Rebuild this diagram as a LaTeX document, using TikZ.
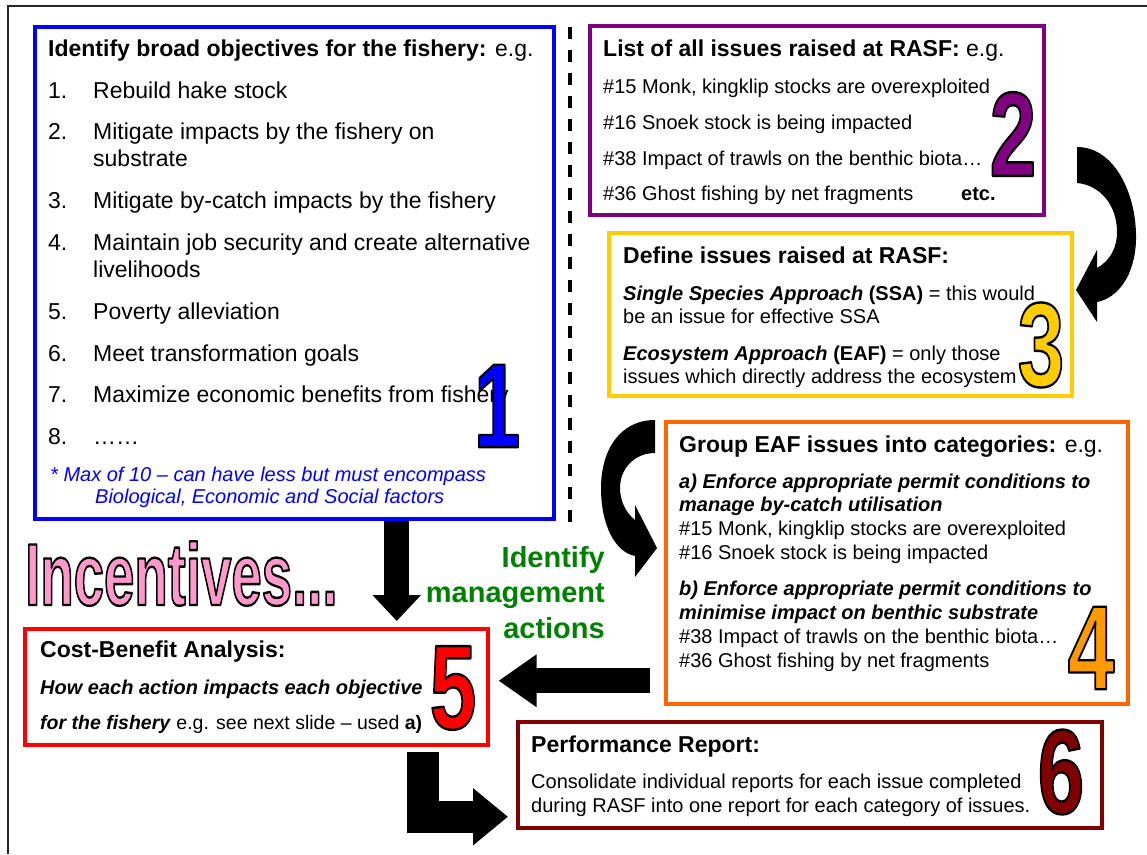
\documentclass[tikz,border=0pt]{standalone}
\usepackage{fontspec}
\setmainfont{Liberation Sans}
\usepackage{graphicx}
\usepackage{tikz}
\usetikzlibrary{arrows.meta,positioning}

\definecolor{objblue}{RGB}{0,0,255}
\definecolor{listpurple}{RGB}{128,0,128}
\definecolor{defyellow}{RGB}{255,204,0}
\definecolor{grouporange}{RGB}{255,102,0}
\definecolor{numorange}{RGB}{255,153,0}
\definecolor{cbared}{RGB}{255,0,0}
\definecolor{reportred}{RGB}{128,0,0}
\definecolor{incpink}{RGB}{255,153,204}
\definecolor{mgmtgreen}{RGB}{0,128,0}

% filled text with a black outline
\newcommand{\outlined}[1]{\special{pdf:literal direct 0 G 2.4 w 1 j 2 Tr}#1\special{pdf:literal direct 0 Tr}}
\newcommand{\bignum}[1]{\scalebox{0.7}[1]{\outlined{#1}}}

\begin{document}
\begin{tikzpicture}[x=1pt, y=-1pt,
	box/.style={draw, line width=3.5pt, inner sep=0pt, anchor=north west},
	head/.style={anchor=base west, inner sep=0pt, font=\fontsize{23}{27}\selectfont\bfseries},
	item/.style={anchor=base west, inner sep=0pt, font=\fontsize{23}{27}\selectfont},
	body/.style={anchor=base west, inner sep=0pt, font=\fontsize{20}{24}\selectfont},
	note/.style={anchor=base west, inner sep=0pt, font=\fontsize{20}{24}\selectfont\itshape, text=objblue},
	bignum/.style={inner sep=0pt, font=\fontsize{120}{120}\selectfont\bfseries},
	blockarrow/.style={draw=black, line width=25pt}]

	\useasboundingbox (0,0) rectangle (1147,854);

	% Frame
	\draw[line width=1.2pt, black!85] (8,854) -- (8,6) -- (1147,6);

	% Divider
	\draw[line width=3.5pt, dash pattern=on 12pt off 11pt] (570,27) -- (570,527);

	% Objectives
	\node[box, draw=objblue, minimum width=519pt, minimum height=492pt] (objectives) at (33,25) {};
	\node[head] (objhead) at (48,56) {Identify broad objectives for the fishery: \mdseries e.g.};
	\foreach \n/\y in {1/98.5, 2/139, 3/208, 4/250, 5/319, 6/361, 7/402, 8/444}
		\node[item] (objnum\n) at (48,\y) {\n.};
	\foreach \y/\t [count=\i] in {98.5/Rebuild hake stock, 139/Mitigate impacts by the fishery on, 166.5/substrate, 208/Mitigate by-catch impacts by the fishery, 250/Maintain job security and create alternative, 277/livelihoods, 319/Poverty alleviation, 361/Meet transformation goals, 402/Maximize economic benefits from fishery, 444/……}
		\node[item] (objtxt\i) at (93,\y) {\t};
	\node[note] (objnote1) at (50,481) {* Max of 10 – can have less but must encompass};
	\node[note] (objnote2) at (95,503.5) {Biological, Economic and Social factors};
	\node[bignum, text=objblue] (num1) at (497,406) {\bignum{1}};

	% Issues
	\node[box, draw=listpurple, minimum width=454pt, minimum height=189pt] (issues) at (588,24) {};
	\node[head] (issuehead) at (603,56) {List of all issues raised at RASF: \mdseries e.g.};
	\foreach \y/\t [count=\i] in {93/{\#15 Monk, kingklip stocks are overexploited}, 129/\#16 Snoek stock is being impacted, 165/\#38 Impact of trawls on the benthic biota…, 200/\#36 Ghost fishing by net fragments}
		\node[body] (issue\i) at (603,\y) {\t};
	\node[body, font=\fontsize{20}{24}\selectfont\bfseries] (issueetc) at (961,200) {etc.};
	\node[bignum, text=listpurple] (num2) at (1013,134) {\bignum{2}};

	% Definitions
	\node[box, draw=defyellow, minimum width=463pt, minimum height=163pt] (define) at (607,231) {};
	\node[head] (defhead) at (623,263) {Define issues raised at RASF:};
	\node[body] (def1) at (623,300) {\textbf{\textit{Single Species Approach}} \textbf{(SSA)} = this would};
	\node[body] (def2) at (623,323) {be an issue for effective SSA};
	\node[body] (def3) at (623,360) {\textbf{\textit{Ecosystem Approach}} \textbf{(EAF)} = only those};
	\node[body] (def4) at (623,383) {issues which directly address the ecosystem};
	\node[bignum, text=defyellow] (num3) at (1041,345) {\bignum{3}};

	% Groups
	\node[box, draw=grouporange, minimum width=462pt, minimum height=282pt] (groups) at (664,420) {};
	\node[head] (grouphead) at (679,452) {Group EAF issues into categories: \mdseries e.g.};
	\node[body] (groupa1) at (679,488) {\textbf{\textit{a) Enforce appropriate permit conditions to}}};
	\node[body] (groupa2) at (679,511) {\textbf{\textit{manage by-catch utilisation}}};
	\node[body] (groupa3) at (679,535) {\#15 Monk, kingklip stocks are overexploited};
	\node[body] (groupa4) at (679,559) {\#16 Snoek stock is being impacted};
	\node[body] (groupb1) at (679,595) {\textbf{\textit{b) Enforce appropriate permit conditions to}}};
	\node[body] (groupb2) at (679,619) {\textbf{\textit{minimise impact on benthic substrate}}};
	\node[body] (groupb3) at (679,643) {\#38 Impact of trawls on the benthic biota…};
	\node[body] (groupb4) at (679,667) {\#36 Ghost fishing by net fragments};
	\node[bignum, text=numorange] (num4) at (1091,648) {\bignum{4}};

	% Cost-benefit
	\node[box, draw=cbared, minimum width=463pt, minimum height=116pt] (costben) at (23,627) {};
	\node[head] (cbahead) at (40,657) {Cost-Benefit Analysis:};
	\node[body] (cba1) at (40,694) {\textbf{\textit{How each action impacts each objective}}};
	\node[body, font=\fontsize{19.5}{24}\selectfont] (cba2) at (40,729) {\textbf{\textit{for the fishery}} e.g. see next slide – used \textbf{a)}};
	\node[bignum, text=cbared] (num5) at (453,688) {\bignum{5}};

	% Report
	\node[box, draw=reportred, minimum width=584pt, minimum height=106pt] (report) at (516,720) {};
	\node[head] (rephead) at (531,752) {Performance Report:};
	\node[body] (rep1) at (531,788) {Consolidate individual reports for each issue completed};
	\node[body] (rep2) at (531,812) {during RASF into one report for each category of issues.};
	\node[bignum, text=reportred] (num6) at (1061,772) {\bignum{6}};

	% Incentives
	\node[anchor=base west, inner sep=0pt, font=\fontsize{88}{88}\selectfont\bfseries, text=incpink] (incentives) at (25,605) {\scalebox{0.62}[1]{\outlined{Incentives...}}};

	% Management actions
	\foreach \y/\t [count=\i] in {567/Identify, 602/management, 638/actions}
		\node[anchor=base east, inner sep=0pt, font=\fontsize{29}{33}\selectfont\bfseries, text=mgmtgreen] (mgmt\i) at (605,\y) {\t};

	% Arrows
	\draw[blockarrow, -{Triangle[length=26pt,width=47pt]}] ([xshift=102.5pt]objectives.south) -- ([xshift=140.5pt,yshift=6pt]costben.north);
	\draw[blockarrow, -{Triangle[length=38pt,width=50pt]}] ([xshift=-14pt,yshift=-118pt]groups.west) -- ([xshift=9pt,yshift=6pt]costben.east);
	\draw[blockarrow, line width=32pt, -{Triangle[length=35pt,width=55pt]}] ([xshift=166.5pt,yshift=-5pt]costben.south) |- ([xshift=-8pt,yshift=-42pt]report.west);

	% Curved arrows
	\fill (1077,147) .. controls (1115,147) and (1137,195) .. (1136,240) .. controls (1135,275) and (1118,298) .. (1097,302) -- (1097,322) -- (1076,290) -- (1097,250) -- (1097,268) .. controls (1108,262) and (1117,250) .. (1117,232) .. controls (1117,205) and (1100,185) .. (1077,183) -- cycle;
	\fill (655,420) .. controls (620,420) and (601,450) .. (601,488) .. controls (601,525) and (615,552) .. (635,556) -- (635,577) -- (657,548) -- (635,505) -- (635,520) .. controls (625,512) and (620,500) .. (620,488) .. controls (620,468) and (635,453) .. (655,453) -- cycle;
\end{tikzpicture}
\end{document}
